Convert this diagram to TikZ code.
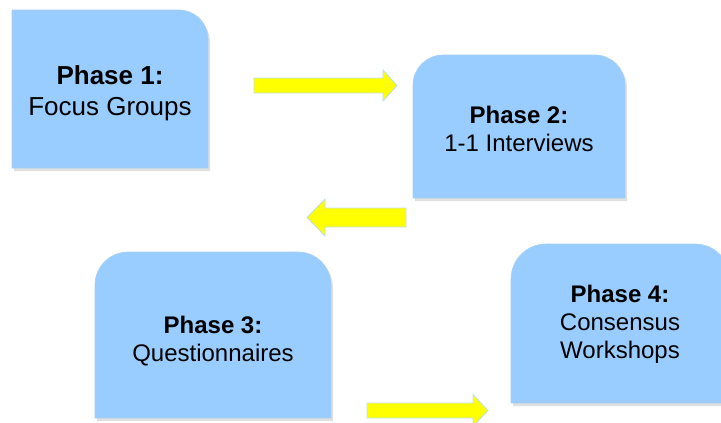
\documentclass[tikz,border=0pt]{standalone}
\usepackage{fontspec}
\setmainfont{Liberation Sans}
\definecolor{boxfill}{HTML}{99CCFF}
\definecolor{boxline}{HTML}{A9D1F2}
\definecolor{arrfill}{HTML}{FFFF00}
\definecolor{arrline}{HTML}{BFE0E6}
\tikzset{
  boxbody/.style={fill=boxfill,draw=boxline,line width=0.6pt},
  boxshadow/.style={fill=black,opacity=0.12},
  blockarrow/.style={fill=arrfill,draw=arrline,line width=0.9pt,line join=miter},
  phasetext/.style={align=center,font=\fontsize{24}{28}\selectfont,inner sep=0pt},
  bigtext/.style={align=center,font=\fontsize{26}{31}\selectfont,inner sep=0pt}
}
% #1 x1, #2 y1 (top), #3 x2, #4 y2 (bottom), #5 left radius, #6 right radius
\newcommand\phaseshape[6]{%
  (#1,#4) -- (#1,{#2+#5})
  .. controls (#1,{#2+#5-0.552*#5}) and ({#1+#5-0.552*#5},#2) .. ({#1+#5},#2)
  -- ({#3-#6},#2)
  .. controls ({#3-#6+0.552*#6},#2) and (#3,{#2+#6-0.552*#6}) .. (#3,{#2+#6})
  -- (#3,#4) -- cycle}
\newcommand\phasebox[6]{%
  \fill[boxshadow,shift={(2,3)}] \phaseshape{#1}{#2}{#3}{#4}{#5}{#6};
  \path[boxbody] \phaseshape{#1}{#2}{#3}{#4}{#5}{#6};}
% right arrow: tail x, head base x, tip x, mid y, shaft half, head half
\newcommand\blockarr[6]{%
  \path[blockarrow] (#1,{#4-#5}) -- (#2,{#4-#5}) -- (#2,{#4-#6}) -- (#3,#4)
    -- (#2,{#4+#6}) -- (#2,{#4+#5}) -- (#1,{#4+#5}) -- cycle;}
\begin{document}
\begin{tikzpicture}[x=1pt,y=-1pt]
  \path[use as bounding box] (0,0) rectangle (721,423);
  \begin{scope}
  \clip (0,0) rectangle (721,423);
  \fill[white] (0,0) rectangle (721,423);
  % boxes
  \phasebox{12}{10}{208}{168}{0}{29}
  \phasebox{413}{55}{625}{198}{30}{30}
  \phasebox{95}{252}{331}{418}{33}{33}
  \phasebox{511}{244}{730}{403}{35}{35}
  % arrows
  \blockarr{254}{383}{397}{85.5}{7.5}{15.5}
  \blockarr{406}{325}{307}{217.5}{9.5}{18.5}
  \blockarr{367}{473}{488}{410.5}{7.5}{16}
  \end{scope}
  % texts
  \node[bigtext]   (p1) at (110,93)  {\textbf{Phase 1:}\\Focus Groups};
  \node[phasetext] (p2) at (519,129) {\textbf{Phase 2:}\\1-1 Interviews};
  \node[phasetext] (p3) at (213,341) {\textbf{Phase 3:}\\Questionnaires};
  \node[phasetext] (p4) at (620,324) {\textbf{Phase 4:}\\Consensus\\Workshops};
\end{tikzpicture}
\end{document}
